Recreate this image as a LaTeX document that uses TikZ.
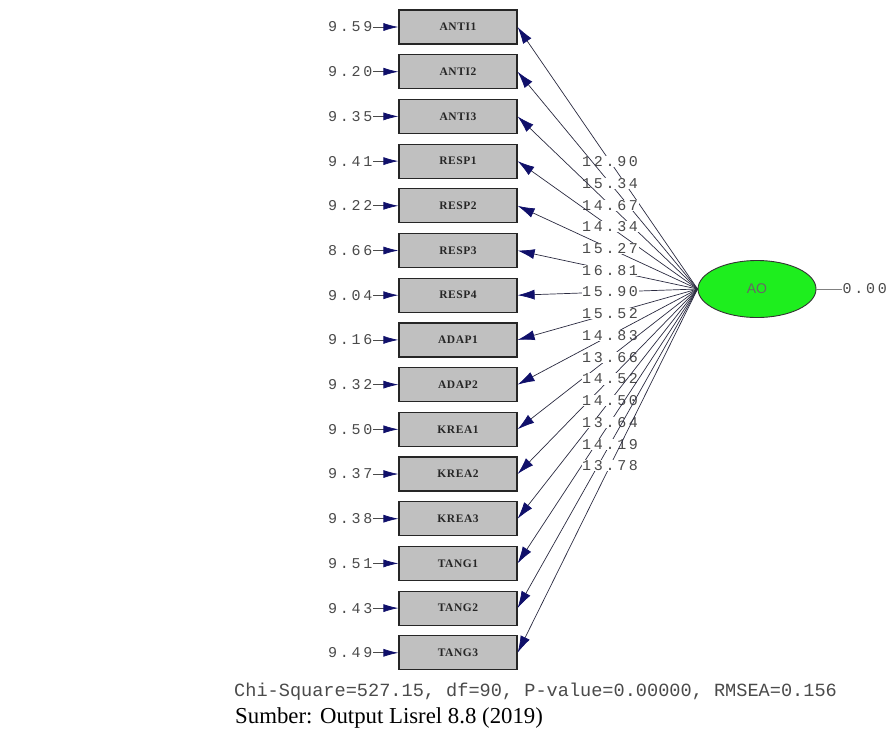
\documentclass[tikz,border=0pt]{standalone}
\usepackage{fontspec}
\setmainfont{Liberation Serif}
\newfontfamily\numfont[LetterSpace=18]{Liberation Mono}
\newfontfamily\boxfont[LetterSpace=5]{Liberation Serif}
\newfontfamily\statfont{Liberation Mono}
\newfontfamily\latfont{Liberation Sans}
\usetikzlibrary{arrows.meta,shapes.geometric}
\definecolor{navyhead}{HTML}{10106A}
\definecolor{pathline}{HTML}{2A2A40}
\definecolor{boxgray}{HTML}{C0C0C0}
\definecolor{aogreen}{HTML}{1EEE1E}
\definecolor{numgray}{HTML}{4A4A4A}
\begin{document}
\begin{tikzpicture}[x=1pt,y=-1pt,
  indicator/.style={draw=black!85, line width=1.2pt, fill=boxgray,
    minimum width=118pt, minimum height=34pt, inner sep=0pt,
    font=\boxfont\bfseries\fontsize{11.5}{11.5}\selectfont, text=black!85},
  latent/.style={ellipse, draw=black!80, line width=0.9pt, fill=aogreen,
    minimum width=118pt, minimum height=57pt, inner sep=0pt,
    font=\latfont\fontsize{14}{14}\selectfont, text=black!60},
  numlab/.style={font=\numfont\fontsize{15}{15}\selectfont, text=numgray, inner sep=0.5pt},
  loadlab/.style={numlab, fill=white},
  loadpath/.style={pathline, line width=0.7pt,
    -{Latex[length=17pt,width=10pt,color=navyhead]}},
  errpath/.style={numgray, line width=0.7pt,
    -{Latex[length=15pt,width=8pt,color=navyhead]}},
]
\useasboundingbox (0,0) rectangle (893,740);

% latent variable
\node[latent] (ao) at (757,289) {AO};
\node[numlab, anchor=west] (aovar) at (842,289) {0.00};
\draw[numgray!70, line width=0.6pt] (ao.east) -- (aovar.west);

% indicators, their error variances and loadings
\foreach \nm/\err/\ld [count=\i from 0] in {
  ANTI1/9.59/12.90, ANTI2/9.20/15.34, ANTI3/9.35/14.67,
  RESP1/9.41/14.34, RESP2/9.22/15.27, RESP3/8.66/16.81, RESP4/9.04/15.90,
  ADAP1/9.16/15.52, ADAP2/9.32/14.83,
  KREA1/9.50/13.66, KREA2/9.37/14.52, KREA3/9.38/14.50,
  TANG1/9.51/13.64, TANG2/9.43/14.19, TANG3/9.49/13.78} {
  \pgfmathsetmacro\yy{27+44.7*\i}
  \node[indicator] (\nm) at (458,\yy) {\nm};
  \node[numlab, anchor=east] (err\nm) at (373,\yy) {\err};
  \draw[errpath] (err\nm.east) -- (\nm.west);
  \draw[loadpath] (ao.west) -- node[loadlab, pos=0.486] (ld\nm) {\ld} (\nm.east);
}

% fit statistics and source
\node[anchor=base west, inner sep=0pt, font=\statfont\fontsize{18.6}{18.6}\selectfont, text=numgray]
  (fit) at (234,696) {Chi-Square=527.15, df=90, P-value=0.00000, RMSEA=0.156};
\node[anchor=base west, inner sep=0pt, font=\fontsize{22.8}{22.8}\selectfont, text=black]
  (src) at (235,723) {Sumber: Output Lisrel 8.8 (2019)};
\end{tikzpicture}
\end{document}
